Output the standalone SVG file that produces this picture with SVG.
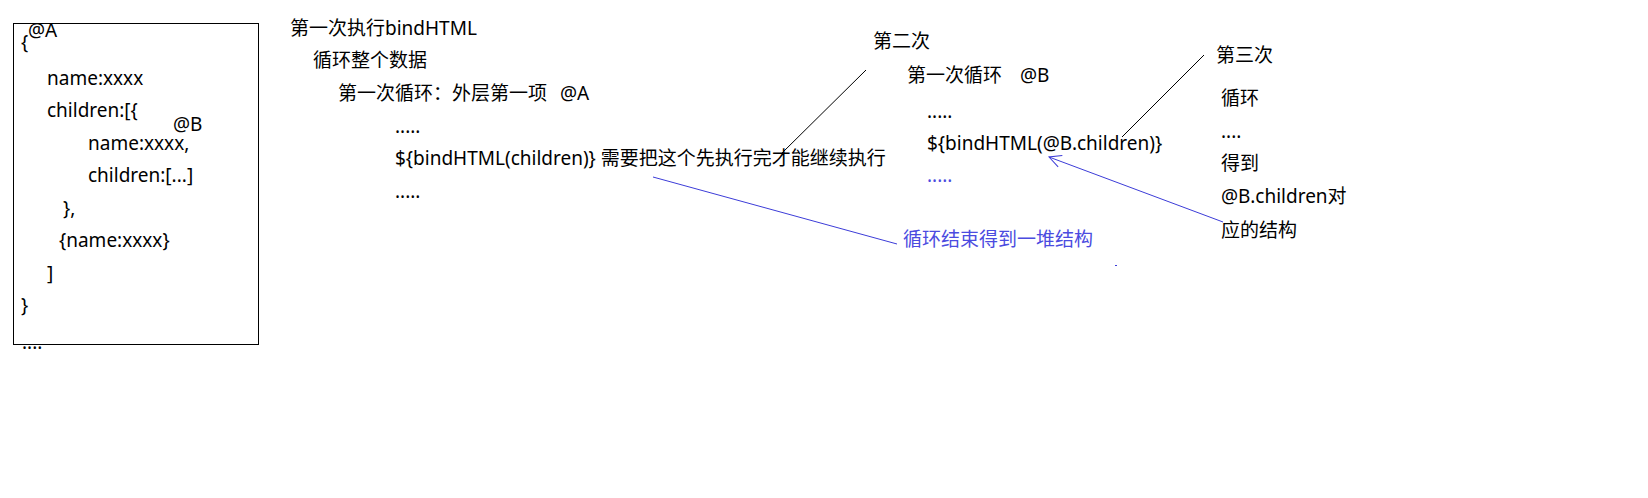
<svg xmlns="http://www.w3.org/2000/svg" width="1648" height="498" viewBox="0 0 1648 498">
<style>
text{font-family:"Noto Sans","Noto Sans CJK SC",sans-serif;font-size:19px;fill:#000}
.blue{fill:#4b4be0}
.ln{stroke:#000;stroke-width:1;fill:none}
.bl{stroke:#3c3cd8;stroke-width:1;fill:none}
</style>
<defs>
<marker id="arr" markerWidth="14" markerHeight="14" refX="13" refY="7" orient="auto" markerUnits="userSpaceOnUse">
<path d="M1,1 L13,7 L1,13" fill="none" stroke="#3c3cd8" stroke-width="1"/>
</marker>
</defs>
<rect width="1648" height="498" fill="#fff"/>
<g id="data-box">
<rect x="13.5" y="23.5" width="245" height="321" fill="none" stroke="#000" stroke-width="1"/>
<text x="28" y="37">@A</text>
<text x="21" y="49">{</text>
<text x="47" y="85">name:xxxx</text>
<text x="47" y="117">children:[{</text>
<text x="173" y="131">@B</text>
<text x="88" y="150">name:xxxx,</text>
<text x="88" y="182">children:[...]</text>
<text x="63" y="215">},</text>
<text x="59" y="247">{name:xxxx}</text>
<text x="47" y="280">]</text>
<text x="21" y="312">}</text>
<text x="22" y="349">....</text>
</g>
<g id="first-call">
<text x="290" y="35">第一次执行bindHTML</text>
<text x="313" y="67">循环整个数据</text>
<text x="338" y="100">第一次循环：外层第一项</text>
<text x="560" y="100">@A</text>
<text x="395" y="133">.....</text>
<text x="395" y="165">${bindHTML(children)} 需要把这个先执行完才能继续执行</text>
<text x="395" y="198">.....</text>
</g>
<g id="second-call">
<text x="873" y="48">第二次</text>
<text x="907" y="82">第一次循环</text>
<text x="1020" y="82">@B</text>
<text x="927" y="118">.....</text>
<text x="927" y="150">${bindHTML(@B.children)}</text>
<text x="927" y="182" class="blue">.....</text>
</g>
<g id="third-call">
<text x="1216" y="62">第三次</text>
<text x="1221" y="105">循环</text>
<text x="1221" y="138">....</text>
<text x="1221" y="170">得到</text>
<text x="1221" y="203">@B.children对</text>
<text x="1221" y="237">应的结构</text>
</g>
<g id="result-label">
<text x="903" y="246" class="blue">循环结束得到一堆结构</text>
</g>
<g id="connectors">
<line class="ln" x1="782" y1="153" x2="866" y2="70"/>
<line class="ln" x1="1122" y1="137" x2="1204" y2="55"/>
<line class="bl" x1="653" y1="177" x2="897" y2="244"/>
<line class="bl" x1="1223" y1="222" x2="1049" y2="157" marker-end="url(#arr)"/>
<rect x="1115" y="265" width="2" height="1" fill="#3c3cd8"/>
</g>
</svg>
